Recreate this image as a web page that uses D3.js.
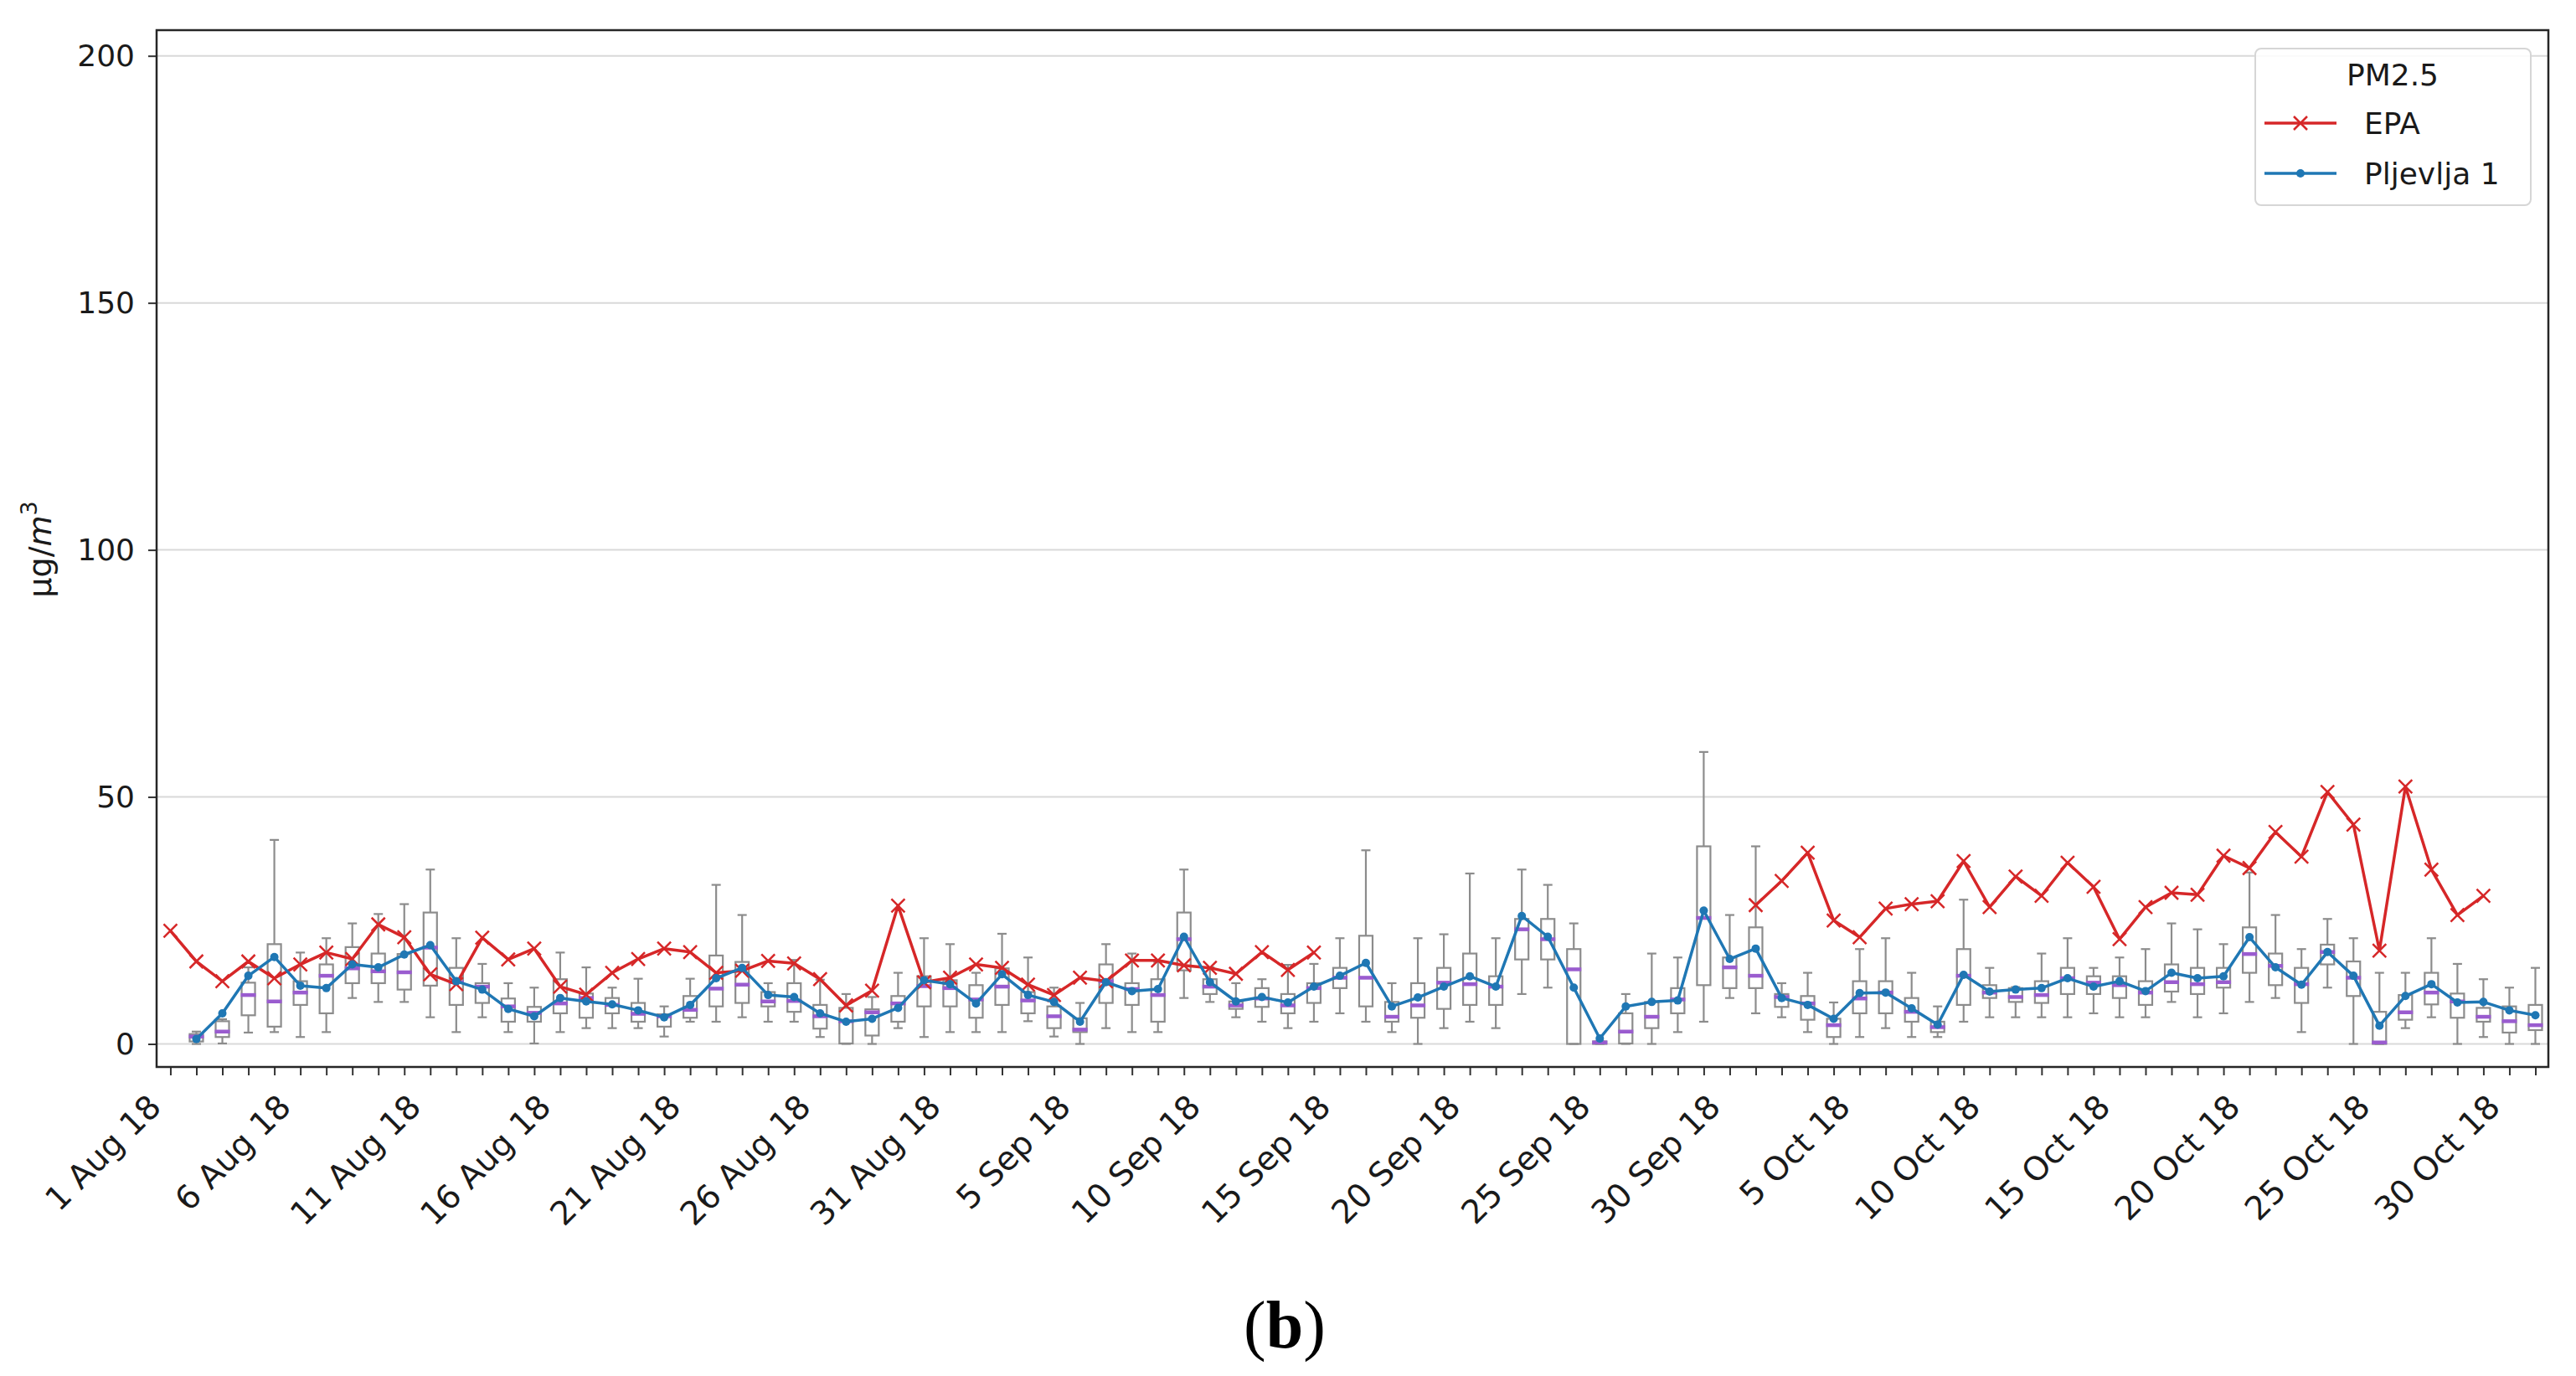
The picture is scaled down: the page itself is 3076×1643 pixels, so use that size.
<!DOCTYPE html>
<html><head><meta charset="utf-8">
<script src="https://cdn.jsdelivr.net/npm/d3@7"></script>
<style>body{margin:0;background:#fff}svg{display:block}</style>
</head><body>
<svg id="chart" width="3076" height="1643"></svg>
<script>
// ---------- DATA ----------
const tickLabels = ["1 Aug 18","6 Aug 18","11 Aug 18","16 Aug 18","21 Aug 18","26 Aug 18","31 Aug 18","5 Sep 18","10 Sep 18","15 Sep 18","20 Sep 18","25 Sep 18","30 Sep 18","5 Oct 18","10 Oct 18","15 Oct 18","20 Oct 18","25 Oct 18","30 Oct 18"];
const yTicks = [0, 50, 100, 150, 200];
const seriesNames = ["EPA", "Pljevlja 1"];
const legendTitle = "PM2.5";

// EPA daily PM2.5 (1 Aug .. 31 Oct 2018), null = missing
const epa = [22.9,16.7,12.7,16.7,13.3,16.1,18.5,17.2,24.2,21.6,14.1,12.1,21.5,17.1,19.3,11.6,10.0,14.4,17.2,19.3,18.6,14.4,14.8,16.8,16.3,13.1,7.8,10.8,28.0,12.5,13.4,16.1,15.4,12.0,9.9,13.4,12.7,16.9,16.9,15.9,15.4,14.2,18.6,15.0,18.5,
null,null,null,null,null,null,null,null,null,null,null,null,null,null,null,null,
28.1,33.0,38.7,25.0,21.6,27.4,28.3,28.9,37.0,27.7,33.9,30.0,36.7,31.8,21.2,27.7,30.6,30.2,38.1,35.6,42.9,37.9,51.0,44.4,18.9,52.1,35.3,26.1,30.0,null,null];

// Pljevlja 1 daily mean
const pljevlja = [null,1.0,6.2,13.8,17.6,11.8,11.3,16.1,15.5,18.1,20.0,12.7,11.0,7.1,5.6,9.3,8.6,8.0,6.8,5.4,7.9,13.3,15.4,9.9,9.5,6.2,4.5,5.1,7.3,12.9,12.1,8.2,14.1,9.9,8.5,4.5,12.5,10.7,11.1,21.7,12.5,8.6,9.5,8.4,11.6,13.8,16.4,7.6,9.4,11.6,13.7,11.6,25.9,21.7,11.4,1.1,7.6,8.5,8.8,27.0,17.2,19.3,9.3,7.9,5.1,10.3,10.4,7.2,3.9,14.0,10.6,11.0,11.3,13.3,11.6,12.7,10.7,14.4,13.3,13.7,21.6,15.5,12.0,18.6,13.8,3.7,9.7,12.1,8.4,8.5,6.8,5.8];

// Box-plot statistics of hourly Pljevlja 1 values per day
const boxMin = [null,0,0.1,2.3,2.4,1.4,2.4,9.3,8.5,8.5,5.4,2.4,5.4,2.4,0.1,2.4,3.2,3.2,3.2,1.5,4.5,4.5,5.4,4.5,4.5,1.4,0,0,3.2,1.4,2.4,2.4,2.4,4.6,1.5,0,3.2,2.4,2.4,9.3,8.5,5.4,4.5,3.2,4.5,6.2,4.5,2.4,0,3.2,4.5,3.2,10.1,11.4,0,0,0,0,2.4,4.5,9.3,6.2,5.4,2.4,0,1.4,3.2,1.4,1.4,4.5,5.4,5.4,5.4,5.4,6.2,5.4,5.4,8.5,5.4,6.2,8.5,9.3,2.4,11.4,0,0,3.2,5.4,0,1.4,0,0];
const boxQ1 = [null,0.5,1.4,5.8,3.5,7.9,6.2,12.3,12.3,11.0,11.8,7.9,8.3,4.5,4.5,6.2,5.3,6.2,4.5,3.5,5.3,7.6,8.3,7.6,6.5,3.1,0.1,1.7,4.5,7.6,7.6,5.3,7.9,6.2,3.2,2.4,8.3,7.9,4.5,14.9,10.1,7.1,7.5,6.2,8.3,11.3,7.6,4.5,5.3,7.1,7.9,7.9,17.1,17.1,0,0,0.1,3.2,6.2,11.9,11.3,11.3,7.5,4.9,1.4,6.2,6.2,4.5,2.4,7.9,9.3,8.5,8.3,10.1,10.1,9.3,7.9,10.6,10.1,11.4,14.4,11.9,8.3,16.1,9.7,0,4.9,8.0,5.3,4.5,2.3,2.8];
const boxMedian = [null,1.5,2.5,9.9,8.6,10.4,13.8,15.3,14.7,14.5,19.5,12.5,11.6,7.6,6.3,8.2,9.3,7.9,6.1,5.6,6.9,11.2,12.0,8.6,8.7,5.6,4.6,6.4,8.2,11.7,11.3,9.0,11.6,8.8,5.6,2.9,12.7,11.1,9.9,21.2,11.6,7.8,9.2,7.8,11.3,13.4,13.4,5.5,7.8,12.4,12.1,11.6,23.2,21.2,15.1,0.3,2.5,5.5,9.0,25.5,15.5,13.8,9.5,8.2,3.8,9.2,10.4,6.5,3.4,13.8,10.4,9.5,9.9,13.3,12.4,11.9,10.4,12.5,12.1,12.5,18.2,15.8,12.1,18.6,13.4,0.3,6.4,10.4,8.6,5.5,4.6,3.8];
const boxQ3 = [null,2.0,4.6,12.4,20.2,12.7,16.1,19.6,18.3,18.2,26.6,15.4,12.3,9.2,7.5,13.1,10.2,9.3,8.3,6.0,9.7,17.9,16.6,10.5,12.3,7.9,7.3,7.0,9.7,13.7,12.9,11.9,15.3,10.5,7.6,5.2,16.1,12.3,13.1,26.6,13.1,8.6,11.3,10.1,12.3,15.4,21.9,8.5,12.3,15.4,18.3,13.7,25.3,25.3,19.2,0.5,6.2,8.5,11.3,40.0,17.5,23.6,10.1,9.7,5.1,12.7,12.7,9.3,4.5,19.2,11.9,11.3,12.7,15.4,13.7,13.7,12.7,16.1,15.4,15.4,23.6,18.3,15.4,20.1,16.7,6.5,9.9,14.4,10.2,7.3,7.6,7.9];
const boxMax = [null,2.5,5.0,15.5,41.3,18.5,21.4,24.4,26.3,28.3,35.3,21.4,16.2,12.3,11.4,18.5,15.5,11.4,13.2,7.6,13.2,32.2,26.1,12.3,17.0,13.0,10.1,9.5,14.4,21.4,20.2,14.4,22.3,17.5,11.4,8.3,20.2,18.3,16.6,35.3,15.5,12.3,13.1,16.0,16.2,21.4,39.2,12.3,21.4,22.2,34.5,21.4,35.3,32.2,24.4,0.5,10.1,18.3,17.5,59.1,26.1,40.0,12.3,14.4,8.4,19.2,21.4,14.4,7.6,29.2,15.4,11.5,18.3,21.4,15.4,17.5,19.2,24.4,23.2,20.2,34.7,26.1,19.2,25.3,21.4,14.4,14.4,21.4,16.2,13.1,11.4,15.4];

// ---------- CHART ----------
const svg = d3.select("#chart");
const L = 187, R = 3043, T = 36, B = 1274;
const days = d3.range(epa.length);
const x = d3.scaleLinear().domain([-0.53, 91.5]).range([L, R]);
const y = d3.scaleLinear().domain([-4.66, 205.2]).range([B, T]);
const FONT = "'DejaVu Sans', sans-serif";

// grid
svg.append("g").selectAll("line").data(yTicks).join("line")
  .attr("x1", L).attr("x2", R).attr("y1", d => y(d)).attr("y2", d => y(d))
  .attr("stroke", "#d9d9d9").attr("stroke-width", 2);

// y axis
const yAxis = svg.append("g").attr("transform", `translate(${L},0)`)
  .call(d3.axisLeft(y).tickValues(yTicks).tickSize(10).tickPadding(16));
yAxis.select(".domain").remove();
yAxis.selectAll(".tick line").attr("stroke", "#333").attr("stroke-width", 2);
yAxis.selectAll(".tick text").attr("font-family", FONT).attr("font-size", 36).attr("fill", "#1a1a1a");

// x axis ticks
const xAxis = svg.append("g").attr("transform", `translate(0,${B})`)
  .call(d3.axisBottom(x).tickValues(days).tickSize(10).tickFormat(""));
xAxis.select(".domain").remove();
xAxis.selectAll(".tick line").attr("stroke", "#333").attr("stroke-width", 2);

// x labels (every 5 days)
svg.append("g").selectAll("text").data(tickLabels).join("text")
  .attr("transform", (d, i) => `translate(${x(i * 5) - 9},${1324}) rotate(-45)`)
  .attr("text-anchor", "end")
  .attr("font-family", FONT).attr("font-size", 39).attr("fill", "#1a1a1a")
  .text(d => d);

// boxes
const boxDays = days.filter(i => boxQ1[i] != null);
const gb = svg.append("g").attr("stroke", "#8c8c8c").attr("stroke-width", 2.2).attr("fill", "none");
const bw = 16, cw = 5.5;
boxDays.forEach(i => {
  const cx = x(i);
  gb.append("line").attr("x1", cx).attr("x2", cx).attr("y1", y(boxQ3[i])).attr("y2", y(boxMax[i]));
  gb.append("line").attr("x1", cx).attr("x2", cx).attr("y1", y(boxQ1[i])).attr("y2", y(boxMin[i]));
  gb.append("line").attr("x1", cx - cw).attr("x2", cx + cw).attr("y1", y(boxMax[i])).attr("y2", y(boxMax[i]));
  gb.append("line").attr("x1", cx - cw).attr("x2", cx + cw).attr("y1", y(boxMin[i])).attr("y2", y(boxMin[i]));
  gb.append("rect").attr("x", cx - bw / 2).attr("width", bw)
    .attr("y", y(boxQ3[i])).attr("height", Math.max(0.5, y(boxQ1[i]) - y(boxQ3[i])));
});
svg.append("g").selectAll("line").data(boxDays).join("line")
  .attr("x1", i => x(i) - 9).attr("x2", i => x(i) + 9)
  .attr("y1", i => y(boxMedian[i])).attr("y2", i => y(boxMedian[i]))
  .attr("stroke", "#9a5ccf").attr("stroke-width", 4.5);

// EPA line
const RED = "#d62728", BLUE = "#1f77b4";
const line = d3.line().defined(d => d.v != null).x(d => x(d.i)).y(d => y(d.v));
const epaPts = days.map(i => ({i, v: epa[i]}));
svg.append("path").datum(epaPts).attr("d", line).attr("fill", "none")
  .attr("stroke", RED).attr("stroke-width", 3.5).attr("stroke-linejoin", "round");
const xm = 8;
svg.append("g").selectAll("path").data(epaPts.filter(d => d.v != null)).join("path")
  .attr("d", d => `M${x(d.i)-xm},${y(d.v)-xm}L${x(d.i)+xm},${y(d.v)+xm}M${x(d.i)-xm},${y(d.v)+xm}L${x(d.i)+xm},${y(d.v)-xm}`)
  .attr("stroke", RED).attr("stroke-width", 2.5).attr("fill", "none");

// Pljevlja line
const plPts = days.map(i => ({i, v: pljevlja[i]}));
svg.append("path").datum(plPts).attr("d", line).attr("fill", "none")
  .attr("stroke", BLUE).attr("stroke-width", 3.5).attr("stroke-linejoin", "round");
svg.append("g").selectAll("circle").data(plPts.filter(d => d.v != null)).join("circle")
  .attr("cx", d => x(d.i)).attr("cy", d => y(d.v)).attr("r", 5).attr("fill", BLUE);

// frame
svg.append("rect").attr("x", L).attr("y", T).attr("width", R - L).attr("height", B - T)
  .attr("fill", "none").attr("stroke", "#262626").attr("stroke-width", 2.5);

// y label
const yl = svg.append("text").attr("transform", "translate(61,656) rotate(-90)")
  .attr("text-anchor", "middle").attr("font-family", FONT).attr("font-size", 38).attr("fill", "#1a1a1a");
yl.append("tspan").text("µg/");
yl.append("tspan").attr("font-style", "italic").text("m");
yl.append("tspan").attr("font-size", 27).attr("dy", -17).text("3");

// legend
const lg = svg.append("g");
lg.append("rect").attr("x", 2693).attr("y", 58).attr("width", 329).attr("height", 187).attr("rx", 7)
  .attr("fill", "#fff").attr("fill-opacity", 0.85).attr("stroke", "#d6d6d6").attr("stroke-width", 2);
lg.append("text").attr("x", 2857).attr("y", 102).attr("text-anchor", "middle")
  .attr("font-family", FONT).attr("font-size", 36).attr("fill", "#1a1a1a").text(legendTitle);
[[147, RED], [207, BLUE]].forEach(([ly, c], k) => {
  lg.append("line").attr("x1", 2704).attr("x2", 2790).attr("y1", ly).attr("y2", ly)
    .attr("stroke", c).attr("stroke-width", 3.5);
  if (k === 0) {
    lg.append("path").attr("d", `M${2747-xm},${ly-xm}L${2747+xm},${ly+xm}M${2747-xm},${ly+xm}L${2747+xm},${ly-xm}`)
      .attr("stroke", c).attr("stroke-width", 2.5);
  } else {
    lg.append("circle").attr("cx", 2747).attr("cy", ly).attr("r", 5).attr("fill", c);
  }
  lg.append("text").attr("x", 2823).attr("y", ly + 13).attr("font-family", FONT)
    .attr("font-size", 36).attr("fill", "#1a1a1a").text(seriesNames[k]);
});

// caption
const cap = svg.append("text").attr("x", 1534).attr("y", 1609).attr("text-anchor", "middle")
  .attr("font-family", "'Liberation Serif', serif").attr("font-size", 80).attr("fill", "#000");
cap.append("tspan").text("(");
cap.append("tspan").attr("font-weight", "bold").text("b");
cap.append("tspan").text(")");
</script>
</body></html>
